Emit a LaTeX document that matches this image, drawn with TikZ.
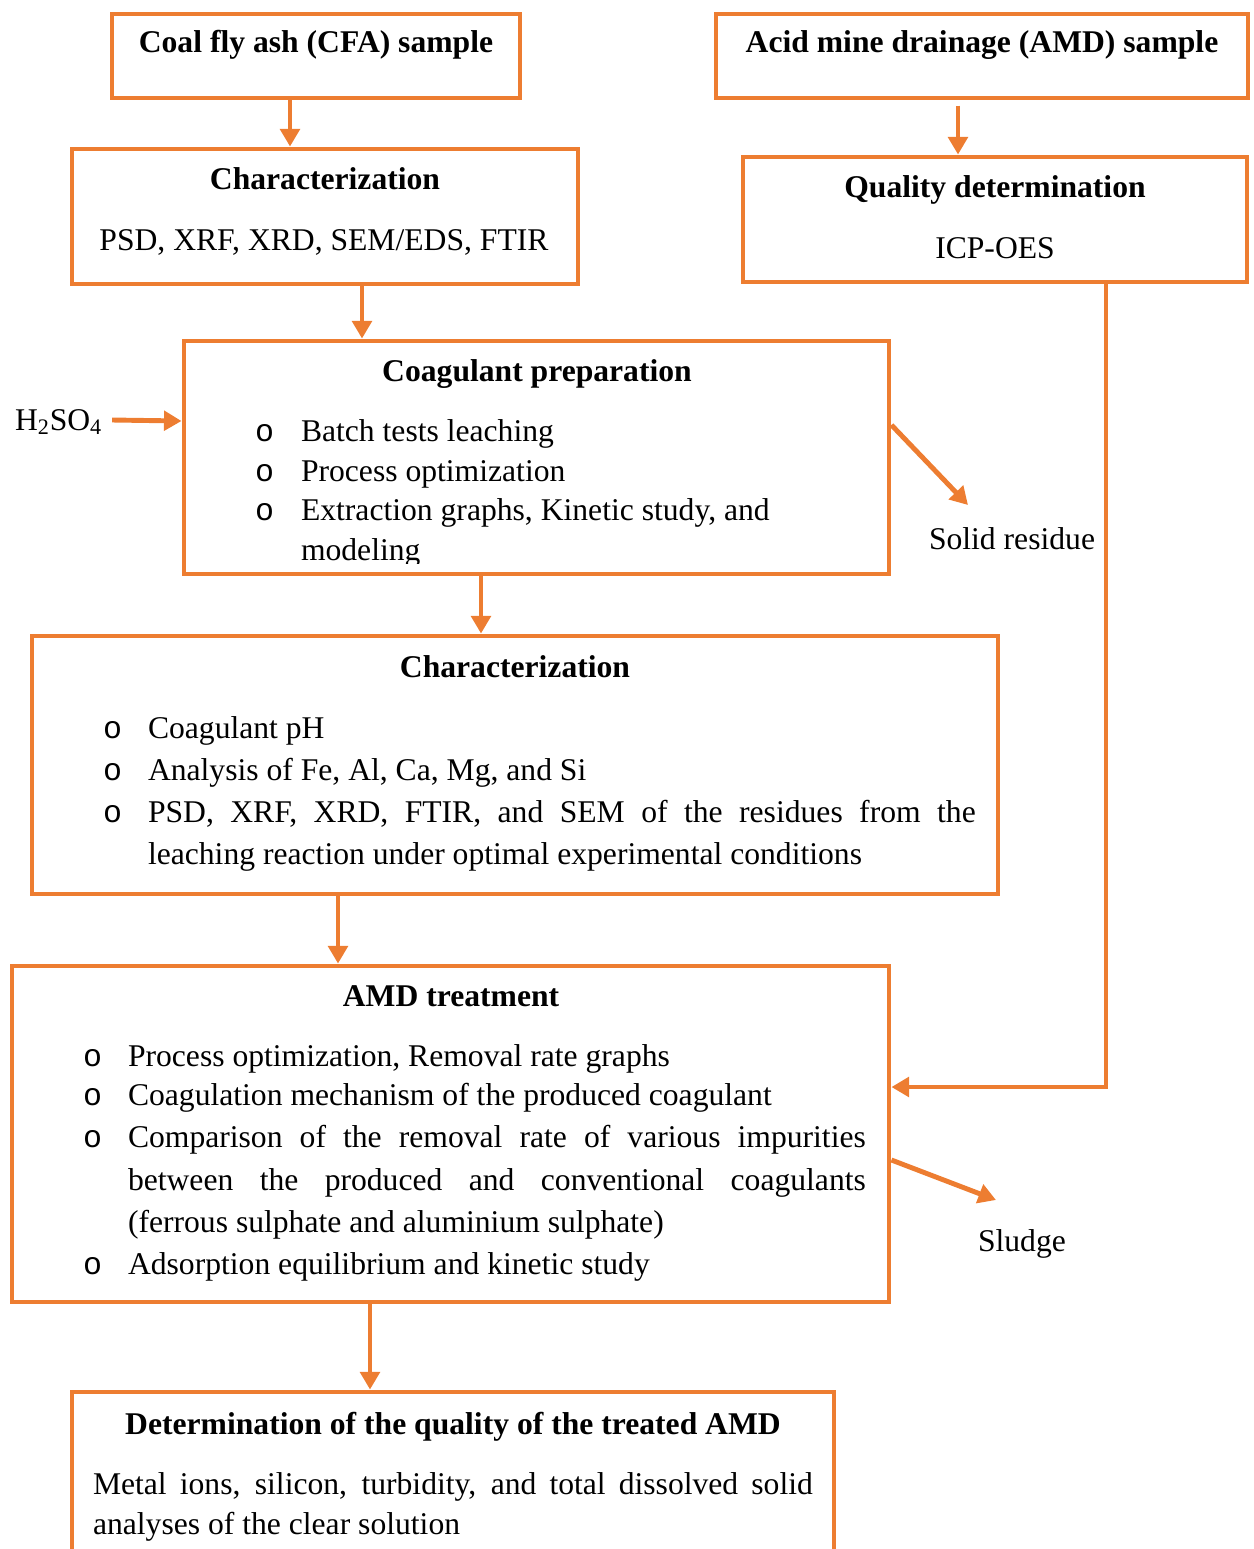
\documentclass[tikz,border=0pt]{standalone}
\usepackage{fontspec}
\setmainfont{Liberation Serif}
\newfontfamily\bulletfont{Liberation Mono}
\usetikzlibrary{arrows.meta,fit}
\definecolor{boxorange}{HTML}{ED7D31}
\begin{document}
\begin{tikzpicture}[x=0.02cm,y=-0.02cm,
  box/.style={draw=boxorange,line width=2.8pt,inner sep=0pt},
  conn/.style={draw=boxorange,line width=2.8pt,-{Triangle[length=10pt,width=11pt]}},
  txt/.style={inner sep=0pt,outer sep=0pt,anchor=base west,font=\fontsize{18}{22}\selectfont},
  ttl/.style={inner sep=0pt,outer sep=0pt,anchor=base,font=\fontsize{18}{22}\selectfont\bfseries},
  ctr/.style={inner sep=0pt,outer sep=0pt,anchor=base,font=\fontsize{18}{22}\selectfont},
  bul/.style={inner sep=0pt,outer sep=0pt,anchor=base west,font=\fontsize{18}{22}\selectfont\bulletfont}]
\useasboundingbox (0,0) rectangle (1254,1549);
\clip (0,0) rectangle (1254,1549);

% ---- texts ----
\node[ttl] (t1) at (316,52) {Coal fly ash (CFA) sample};
\node[ttl] (t2) at (982,52) {Acid mine drainage (AMD) sample};
\node[ttl] (t3) at (325,189) {Characterization};
\node[ctr] (t3a) at (324,250) {PSD, XRF, XRD, SEM/EDS, FTIR};
\node[ttl] (t4) at (995,197) {Quality determination};
\node[ctr] (t4a) at (995,258) {ICP-OES};

\node[ttl] (t5) at (537,381) {Coagulant preparation};
\node[bul] (b5a) at (255,441) {o};
\node[txt] (t5a) at (301,441) {Batch tests leaching};
\node[bul] (b5b) at (255,481) {o};
\node[txt] (t5b) at (301,481) {Process optimization};
\node[bul] (b5c) at (255,520) {o};
\node[txt] (t5c) at (301,520) {Extraction graphs, Kinetic study, and};
\begin{scope}
  \clip (184,535) rectangle (889,563);
  \node[txt] (t5d) at (301,560) {modeling};
\end{scope}

\node[ttl] (t6) at (515,677) {Characterization};
\node[bul] (b6a) at (103,738) {o};
\node[txt] (t6a) at (148,738) {Coagulant pH};
\node[bul] (b6b) at (103,780) {o};
\node[txt] (t6b) at (148,780) {Analysis of Fe, Al, Ca, Mg, and Si};
\node[bul] (b6c) at (103,822) {o};
\node[txt] (t6c) at (148,822) {\makebox[16.56cm][s]{PSD, XRF, XRD, FTIR, and SEM of the residues from the}};
\node[txt] (t6d) at (148,864) {leaching reaction under optimal experimental conditions};

\node[ttl] (t7) at (451,1006) {AMD treatment};
\node[bul] (b7a) at (83,1066) {o};
\node[txt] (t7a) at (128,1066) {Process optimization, Removal rate graphs};
\node[bul] (b7b) at (83,1105) {o};
\node[txt] (t7b) at (128,1105) {Coagulation mechanism of the produced coagulant};
\node[bul] (b7c) at (83,1147) {o};
\node[txt] (t7c) at (128,1147) {\makebox[14.76cm][s]{Comparison of the removal rate of various impurities}};
\node[txt] (t7d) at (128,1190) {\makebox[14.76cm][s]{between the produced and conventional coagulants}};
\node[txt] (t7e) at (128,1232) {(ferrous sulphate and aluminium sulphate)};
\node[bul] (b7f) at (83,1274) {o};
\node[txt] (t7f) at (128,1274) {Adsorption equilibrium and kinetic study};

\node[ttl] (t8) at (453,1434) {Determination of the quality of the treated AMD};
\node[txt] (t8a) at (93,1494) {\makebox[14.4cm][s]{Metal ions, silicon, turbidity, and total dissolved solid}};
\node[txt] (t8b) at (93,1534) {analyses of the clear solution};

\node[txt] (h2so4) at (15,430) {H\textsubscript{2}SO\textsubscript{4}};
\node[txt] (solid) at (929,549) {Solid residue};
\node[txt] (sludge) at (978,1251) {Sludge};

% ---- boxes ----
\node[box,fit={(112,14) (520,98)}] (cfa) {};
\node[box,fit={(716,14) (1248,98)}] (amd) {};
\node[box,fit={(72,149) (578,284)}] (char1) {};
\node[box,fit={(743,157) (1247,282)}] (quality) {};
\node[box,fit={(184,341) (889,574)}] (coag) {};
\node[box,fit={(32,636) (998,894)}] (char2) {};
\node[box,fit={(12,966) (889,1302)}] (amdt) {};
\node[box,fit={(72,1392) (834,1620)}] (det) {};

\coordinate (srtip) at (968,505);
\coordinate (sltip) at (996,1200);

% ---- connectors ----
\draw[conn] (cfa.south -| 290,0) -- (char1.north -| 290,0);
\draw[conn] ([yshift=-3pt]amd.south -| 958,0) -- (quality.north -| 958,0);
\draw[conn] (char1.south -| 362,0) -- (coag.north -| 362,0);
\draw[conn] (h2so4.east |- 0,420) ++(10,0) -- (coag.west |- 0,421);
\draw[conn] (coag.east |- 0,425) -- (srtip);
\draw[conn] (coag.south -| 481,0) -- (char2.north -| 481,0);
\draw[conn] (char2.south -| 338,0) -- (amdt.north -| 338,0);
\draw[conn] (quality.south -| 1106,0) |- (amdt.east |- 0,1087);
\draw[conn] (amdt.east |- 0,1160) -- (sltip);
\draw[conn] (amdt.south -| 370,0) -- (det.north -| 370,0);
\end{tikzpicture}
\end{document}
